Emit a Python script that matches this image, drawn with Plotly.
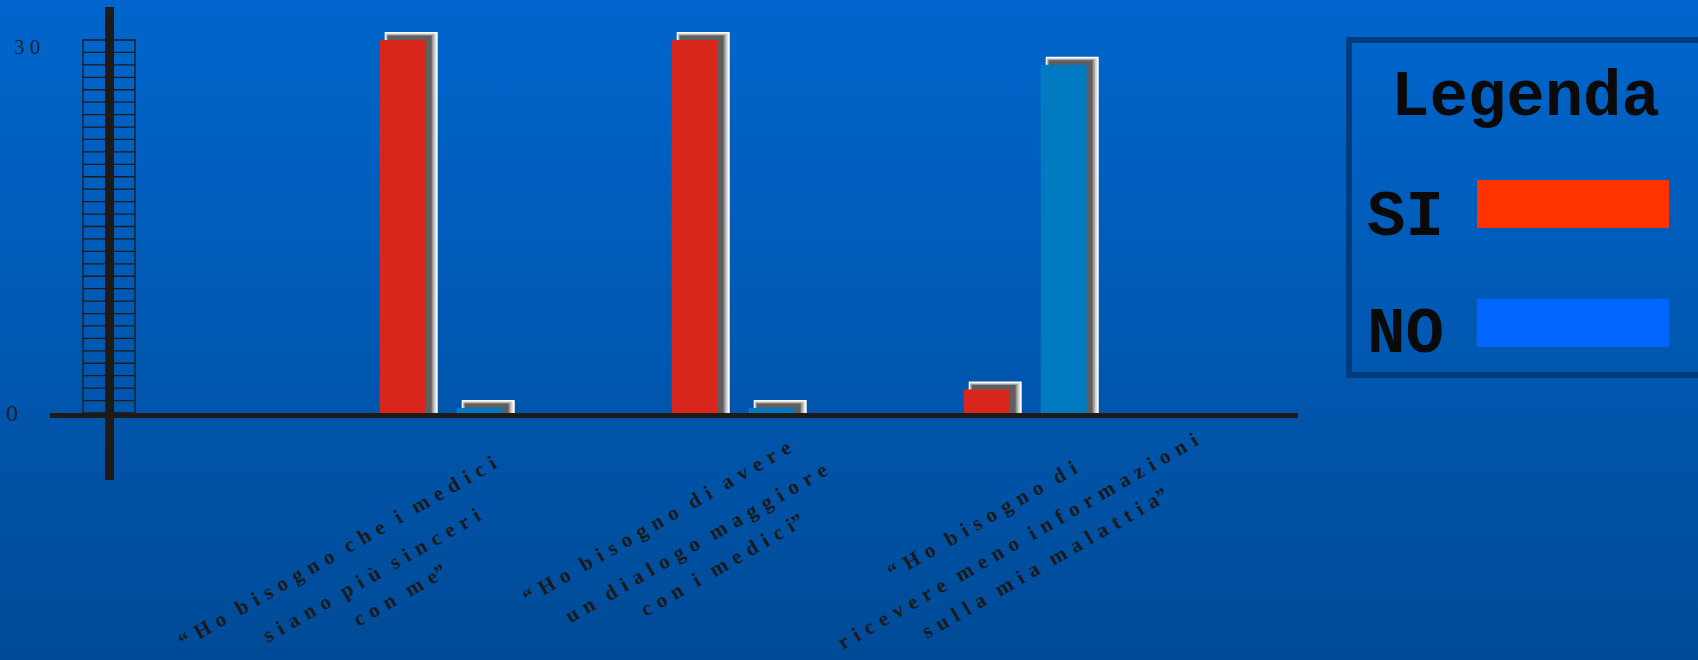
import plotly.graph_objects as go

# ---------------- data ----------------
label_lines = [
    ["“Ho bisogno che i medici", "siano più sinceri", "con me”"],
    ["“Ho bisogno di avere", "un dialogo maggiore", "con i medici”"],
    ["“Ho bisogno di", "ricevere meno informazioni", "sulla mia malattia”"],
]
series_names = ["SI", "NO"]
si_values = [30, 30, 1.9]
no_values = [0.4, 0.4, 28]
y_tick_vals = [0, 30]
y_tick_text = ["0", "3 0"]
y_max = 30
legend_title = "Legenda"

# ---------------- layout constants ----------------
W, H = 1698, 660
PX_X = 292.0            # pixels per category step
X0_PX = 441.2           # pixel of first category centre
Y0_PX = 413.0           # pixel of value 0
PX_Y = (413.0 - 40.0) / 30.0  # pixels per unit


def X(px):
    return px / W


def Y(py):
    return 1 - py / H


def ux(px):
    return px / PX_X


def uy(px):
    return px / PX_Y


AX_COL = "#1E1A18"
BAR_COLORS = {"SI": "#D9261C", "NO": "#007BC2"}
LEG_COLORS = {"SI": "#FF3300", "NO": "#0066FF"}

idx = list(range(len(label_lines)))
bar_w_px = 46
bar_left_px = {"SI": -61.5, "NO": 15.5}

fig = go.Figure()

# frame layers (white border + grey shadow) then the coloured bar
layers = [
    # (dx_left, dx_right, dtop, color)
    (5, 12, 8, "#FFFFFF"),
    (6, 10, 6.5, "#D0D0D0"),
    (7, 8, 5.5, "#9A9A9A"),
    (8, 6, 4.5, "#5E5E5E"),
]
for name, vals in zip(series_names, [si_values, no_values]):
    left = bar_left_px[name]
    for dl, dr, dt, col in layers:
        fig.add_trace(go.Bar(
            x=idx, y=[v + uy(dt) for v in vals],
            offset=ux(left + dl), width=ux(bar_w_px - dl + dr),
            marker=dict(color=col, line=dict(width=0)),
            hoverinfo="skip", showlegend=False))
    fig.add_trace(go.Bar(
        x=idx, y=vals, name=name,
        offset=ux(left), width=ux(bar_w_px),
        marker=dict(color=BAR_COLORS[name], line=dict(width=0)),
        showlegend=False))

shapes = []
# ladder on the y axis
shapes.append(dict(type="rect", xref="paper", yref="y", x0=X(83), x1=X(135),
                   y0=0, y1=y_max, line=dict(color=AX_COL, width=1.3)))
for k in range(1, y_max):
    shapes.append(dict(type="line", xref="paper", yref="y", x0=X(83), x1=X(135),
                       y0=k, y1=k, line=dict(color=AX_COL, width=1.3)))
# main axes
shapes.append(dict(type="line", xref="paper", yref="paper", x0=X(50), x1=X(1298),
                   y0=Y(415.5), y1=Y(415.5), line=dict(color=AX_COL, width=5)))
shapes.append(dict(type="line", xref="paper", yref="paper", x0=X(109.5), x1=X(109.5),
                   y0=Y(7), y1=Y(480), line=dict(color=AX_COL, width=9)))
# legend box
shapes.append(dict(type="rect", xref="paper", yref="paper", x0=X(1349), x1=X(1730),
                   y0=Y(40), y1=Y(375), line=dict(color="#003C7D", width=6)))
for name, (t, b) in zip(series_names, [(180, 228), (299, 347)]):
    shapes.append(dict(type="rect", xref="paper", yref="paper", x0=X(1477), x1=X(1669),
                       y0=Y(b), y1=Y(t), fillcolor=LEG_COLORS[name], line=dict(width=0)))

annotations = []
# y tick labels
tick_pos = {0: (12, 413, 24), 30: (27, 47, 21)}
for v, t in zip(y_tick_vals, y_tick_text):
    px, py, fs = tick_pos[v]
    annotations.append(dict(x=X(px), y=Y(py), xref="paper", yref="paper", text=t,
                            showarrow=False, xanchor="center", yanchor="middle",
                            font=dict(family="Liberation Serif", size=fs, color="#14213A")))

# category labels (letter spaced, rotated)
LG = "\u2004"


def spaced(s):
    out = []
    for w in s.split(" "):
        chars = list(w)
        txt = ""
        for i, c in enumerate(chars):
            if i > 0 and c != "”":
                txt += LG
            txt += c
        out.append(txt)
    return (LG * 2).join(out)


line_centres = [
    [(337, 552), (372, 575), (400, 595)],
    [(657, 522), (696, 543), (722, 565)],
    [(982, 520), (1018, 541), (1045, 563)],
]
for lines, cents in zip(label_lines, line_centres):
    for ln, (px, py) in zip(lines, cents):
        annotations.append(dict(x=X(px), y=Y(py), xref="paper", yref="paper",
                                text=spaced(ln), showarrow=False, textangle=-30,
                                xanchor="center", yanchor="middle",
                                font=dict(family="Liberation Serif", size=21,
                                          color="#1A1A1A", weight="bold")))

# legend texts
annotations.append(dict(x=X(1525), y=Y(98), xref="paper", yref="paper", text=legend_title,
                        showarrow=False, xanchor="center", yanchor="middle",
                        font=dict(family="Liberation Mono", size=64, color="#0A0A0A", weight="bold")))
for name, (px, py) in zip(series_names, [(1405, 218), (1405, 335)]):
    annotations.append(dict(x=X(px), y=Y(py), xref="paper", yref="paper", text=name,
                            showarrow=False, xanchor="center", yanchor="middle",
                            font=dict(family="Liberation Mono", size=64, color="#0A0A0A", weight="bold")))

grad_svg = ("<svg xmlns='http://www.w3.org/2000/svg' width='100' height='100' preserveAspectRatio='none'>"
            "<defs><linearGradient id='g' x1='0' y1='0' x2='0' y2='1'>"
            "<stop offset='0' stop-color='#0066CD'/><stop offset='1' stop-color='#004B97'/>"
            "</linearGradient></defs><rect width='100' height='100' fill='url(#g)'/></svg>")
import urllib.parse
grad_uri = "data:image/svg+xml;charset=utf-8," + urllib.parse.quote(grad_svg)

fig.update_layout(
    width=W, height=H, autosize=False,
    margin=dict(l=0, r=0, t=0, b=0, pad=0),
    paper_bgcolor="#0059B2", plot_bgcolor="rgba(0,0,0,0)",
    barmode="overlay",
    xaxis=dict(range=[-X0_PX / PX_X, (W - X0_PX) / PX_X], visible=False, fixedrange=True),
    yaxis=dict(range=[-(H - Y0_PX) / PX_Y, Y0_PX / PX_Y], visible=False, fixedrange=True),
    shapes=shapes, annotations=annotations,
    images=[dict(source=grad_uri, xref="paper", yref="paper", x=0, y=1, sizex=1, sizey=1,
                 sizing="stretch", layer="below", xanchor="left", yanchor="top")],
    showlegend=False,
)

fig.write_html("out.html")
